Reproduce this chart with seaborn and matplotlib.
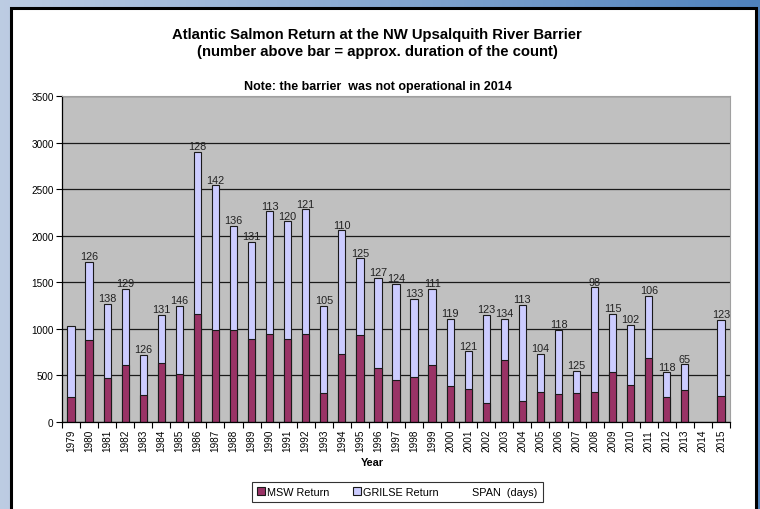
import numpy as np
import pandas as pd
import matplotlib
matplotlib.use('Agg')
import matplotlib.pyplot as plt
import seaborn as sns
from matplotlib.patches import Patch, Rectangle
from matplotlib.lines import Line2D
from matplotlib.ticker import FixedLocator

years = [str(y) for y in range(1979, 2016)]
msw = [269, 882, 473, 617, 294, 635, 516, 1158, 989, 989, 893, 946, 896, 946, 315, 731,
       936, 584, 455, 488, 617, 391, 358, 208, 670, 226, 323, 305, 315, 323, 538, 402,
       688, 272, 348, np.nan, 283]
grilse = [760, 835, 793, 810, 427, 516, 728, 1739, 1553, 1115, 1039, 1316, 1259, 1338, 929, 1327,
          821, 961, 1026, 831, 810, 713, 402, 946, 438, 1029, 405, 688, 234, 1122, 620, 641,
          664, 262, 272, np.nan, 814]
span = ['', '126', '138', '129', '126', '131', '146', '128', '142', '136', '131', '113', '120', '121',
        '105', '110', '125', '127', '124', '133', '111', '119', '121', '123', '134', '113', '104',
        '118', '125', '98', '115', '102', '106', '118', '65', '', '123']

df = pd.DataFrame({'year': years, 'msw': msw, 'grilse': grilse, 'span': span})
df['total'] = df['msw'] + df['grilse']

plt.rcParams['font.family'] = ['Liberation Sans', 'DejaVu Sans']

fig = plt.figure(figsize=(7.6, 5.1), dpi=100)

# slide background + white chart panel
bg = fig.add_axes([0, 0, 1, 1], zorder=-10)
c1 = np.array([0.74, 0.80, 0.89])
c2 = np.array([0.31, 0.51, 0.74])
t = np.linspace(0, 1, 200)[None, :, None]
grad = c1 + (c2 - c1) * t
bg.imshow(np.repeat(grad, 2, axis=0), extent=[0, 760, 510, 0], aspect='auto')
bg.add_patch(Rectangle((11, 8.5), 744.5, 520, facecolor='white', edgecolor='black', linewidth=2.2))
bg.set_xlim(0, 760)
bg.set_ylim(510, 0)
bg.axis('off')

ax = fig.add_axes([62 / 760, 1 - 423 / 510, 668 / 760, 326 / 510])
ax.set_facecolor('#C0C0C0')

sns.barplot(data=df, x='year', y='total', order=years, color='#CCCCFF', saturation=1,
            width=0.4, edgecolor='#1a1a1a', linewidth=0.8, errorbar=None, ax=ax)
sns.barplot(data=df, x='year', y='msw', order=years, color='#993366', saturation=1,
            width=0.4, edgecolor='#1a1a1a', linewidth=0.8, errorbar=None, ax=ax)

for i, row in df.iterrows():
    if row['span'] and not np.isnan(row['total']):
        ax.annotate(row['span'], (i, row['total']), xytext=(0, 0.5), textcoords='offset points',
                    ha='center', va='bottom', fontsize=7.8, color='#222222')

ax.set_ylim(0, 3500)
ax.set_xlim(-0.5, len(years) - 0.5)
ax.set_yticks(range(0, 3501, 500))
ax.yaxis.grid(True, color='#1a1a1a', linewidth=0.9)
ax.set_axisbelow(True)
ax.tick_params(axis='y', labelsize=7.2, length=4, width=0.8, pad=2)
ax.tick_params(axis='x', which='major', labelsize=7.2, length=0, rotation=90, pad=5)
ax.xaxis.set_minor_locator(FixedLocator(np.arange(-0.5, len(years), 1.0)))
ax.tick_params(axis='x', which='minor', length=4, width=0.8)
ax.set_xlabel('')
ax.set_ylabel('')
for s in ['left', 'bottom']:
    ax.spines[s].set_color('black')
    ax.spines[s].set_linewidth(0.9)
for s in ['top', 'right']:
    ax.spines[s].set_color('#a0a0a0')
    ax.spines[s].set_linewidth(0.8)

fig.text(0.496, 1 - 35 / 510, 'Atlantic Salmon Return at the NW Upsalquith River Barrier',
         ha='center', va='center', fontsize=10.7, fontweight='bold')
fig.text(0.496, 1 - 52 / 510, '(number above bar = approx. duration of the count)',
         ha='center', va='center', fontsize=10.7, fontweight='bold')
fig.text(0.497, 1 - 87 / 510, 'Note: the barrier  was not operational in 2014',
         ha='center', va='center', fontsize=9, fontweight='bold')
fig.text(0.49, 1 - 463 / 510, 'Year', ha='center', va='center', fontsize=7.8, fontweight='bold')

handles = [Patch(facecolor='#993366', edgecolor='#1a1a1a', linewidth=0.8),
           Patch(facecolor='#CCCCFF', edgecolor='#1a1a1a', linewidth=0.8),
           Line2D([], [], color='none')]
leg = fig.legend(handles, ['MSW Return', 'GRILSE Return', 'SPAN  (days)'], loc='center',
                 bbox_to_anchor=(0.523, 1 - 493 / 510), ncol=3, fontsize=7.8, frameon=True,
                 fancybox=False, edgecolor='black', handlelength=0.7, handleheight=0.7,
                 handletextpad=0.2, columnspacing=2.2, borderpad=0.5)
leg.get_frame().set_linewidth(0.8)

fig.savefig('out.png', dpi=100)
